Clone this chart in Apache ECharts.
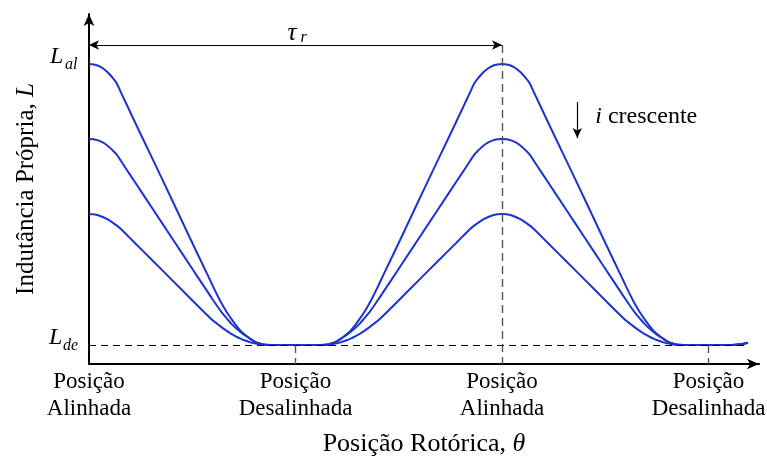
<!DOCTYPE html>
<html>
<head>
<meta charset="utf-8">
<script src="https://cdn.jsdelivr.net/npm/echarts@6/dist/echarts.min.js"></script>
<style>
  html, body { margin: 0; padding: 0; background: #ffffff; }
  #chart { width: 767px; height: 460px; }
</style>
</head>
<body>
<div id="chart"></div>
<script>
// Rotor position over one and a half pole pitches, degrees
const theta = [
  0, 1, 2, 3, 4, 5, 6, 7, 8, 10, 14, 18, 22, 26, 27, 28, 29, 30, 31, 32, 33, 34, 35, 36, 37, 38, 39, 40, 45,
  50, 51, 52, 53, 54, 55, 56, 57, 58, 59, 60, 61, 62, 63, 64, 68, 72, 76, 80, 82, 83, 84, 85, 86, 87, 88, 89, 90,
  91, 92, 93, 94, 95, 96, 97, 98, 100, 104, 108, 112, 116, 117, 118, 119, 120, 121, 122, 123, 124, 125, 126, 127, 128, 129, 130, 135,
  140, 142, 143.6
];

// Self-inductance profiles (arbitrary units), current increasing from first to last
const inductanceLowCurrent = [
  30.0, 29.95, 29.83, 29.58, 29.2, 28.7, 28.1, 27.12, 26.15, 24.2, 20.36, 16.5, 12.6, 8.76, 7.79, 6.85, 5.97, 5.2, 4.52, 3.88, 3.33, 2.92, 2.57, 2.27, 2.08, 1.95, 1.9, 1.9, 1.9,
  1.9, 1.9, 1.95, 2.08, 2.27, 2.57, 2.92, 3.33, 3.88, 4.52, 5.2, 5.97, 6.85, 7.79, 8.76, 12.6, 16.5, 20.36, 24.2, 26.15, 27.12, 28.1, 28.7, 29.2, 29.58, 29.83, 29.95, 30.0,
  29.95, 29.83, 29.58, 29.2, 28.7, 28.1, 27.12, 26.15, 24.2, 20.36, 16.5, 12.6, 8.76, 7.79, 6.85, 5.97, 5.2, 4.52, 3.88, 3.33, 2.92, 2.57, 2.27, 2.08, 1.95, 1.9, 1.9, 1.9,
  1.9, 1.97, 2.13
];
const inductanceMidCurrent = [
  22.5, 22.47, 22.36, 22.16, 21.85, 21.44, 20.97, 20.28, 19.58, 18.2, 15.43, 12.65, 9.87, 7.11, 6.42, 5.75, 5.11, 4.57, 4.04, 3.6, 3.21, 2.85, 2.56, 2.27, 2.08, 1.96, 1.92, 1.9, 1.9,
  1.9, 1.92, 1.96, 2.08, 2.27, 2.56, 2.85, 3.21, 3.6, 4.04, 4.57, 5.11, 5.75, 6.42, 7.11, 9.87, 12.65, 15.43, 18.2, 19.58, 20.28, 20.97, 21.44, 21.85, 22.16, 22.36, 22.47, 22.5,
  22.47, 22.36, 22.16, 21.85, 21.44, 20.97, 20.28, 19.58, 18.2, 15.43, 12.65, 9.87, 7.11, 6.42, 5.75, 5.11, 4.57, 4.04, 3.6, 3.21, 2.85, 2.56, 2.27, 2.08, 1.96, 1.92, 1.9, 1.9,
  1.9, 1.97, 2.13
];
const inductanceHighCurrent = [
  15.0, 14.97, 14.88, 14.7, 14.48, 14.19, 13.86, 13.48, 13.03, 12.1, 10.28, 8.44, 6.6, 4.78, 4.36, 4.0, 3.64, 3.31, 3.02, 2.77, 2.54, 2.35, 2.19, 2.06, 1.98, 1.92, 1.9, 1.9, 1.9,
  1.9, 1.9, 1.92, 1.98, 2.06, 2.19, 2.35, 2.54, 2.77, 3.02, 3.31, 3.64, 4.0, 4.36, 4.78, 6.6, 8.44, 10.28, 12.1, 13.03, 13.48, 13.86, 14.19, 14.48, 14.7, 14.88, 14.97, 15.0,
  14.97, 14.88, 14.7, 14.48, 14.19, 13.86, 13.48, 13.03, 12.1, 10.28, 8.44, 6.6, 4.78, 4.36, 4.0, 3.64, 3.31, 3.02, 2.77, 2.54, 2.35, 2.19, 2.06, 1.98, 1.92, 1.9, 1.9, 1.9,
  1.9, 1.97, 2.13
];

// Position ticks and their labels
const tickValues = [0, 45, 90, 135];
const tickLabels = ['Posição\nAlinhada', 'Posição\nDesalinhada', 'Posição\nAlinhada', 'Posição\nDesalinhada'];

// Reference levels and annotation anchors
const L_AL = 30.0;          // aligned inductance
const L_DE = 1.9;           // unaligned inductance
const TAU_R = 90;           // rotor pole pitch
const TAU_LEVEL = 31.9;     // height of the pole-pitch dimension arrow
const CURVE_END = 143.6;
const I_ARROW = { theta: 106.4, from: 26.2, to: 22.6 };

const THETA_MAX = 146;
const L_MAX = 35;

const SERIF = 'Liberation Serif, Times New Roman, serif';
const BLUE = '#1c34cf';

const chart = echarts.init(document.getElementById('chart'), null, { renderer: 'canvas' });

function pairs(values) {
  return theta.map((t, i) => [t, values[i]]);
}

function curve(name, values) {
  return {
    name: name,
    type: 'line',
    data: pairs(values),
    showSymbol: false,
    smooth: 0.3,
    lineStyle: { color: BLUE, width: 2 },
    silent: true,
    z: 3
  };
}

const dashBlack = { color: '#000', width: 1.2, type: [7, 5] };
const dashGrey = { color: '#555', width: 1.4, type: [8, 5] };
const solidBlack = { color: '#000', width: 1.2, type: 'solid' };

const guides = {
  name: 'guides',
  type: 'line',
  data: [],
  silent: true,
  z: 2,
  markLine: {
    silent: true,
    animation: false,
    label: { show: false },
    symbol: ['none', 'none'],
    data: [
      // unaligned level
      [{ coord: [0, L_DE], lineStyle: dashBlack }, { coord: [CURVE_END, L_DE] }],
      // aligned position marker
      [{ coord: [TAU_R, TAU_LEVEL], lineStyle: dashGrey }, { coord: [TAU_R, 0] }],
      // unaligned position markers
      [{ coord: [45, L_DE], lineStyle: dashGrey }, { coord: [45, 0] }],
      [{ coord: [135, L_DE], lineStyle: dashGrey }, { coord: [135, 0] }],
      // pole pitch dimension
      [{ coord: [0, TAU_LEVEL], lineStyle: solidBlack, symbol: 'arrow', symbolSize: [7, 10] },
       { coord: [TAU_R, TAU_LEVEL], symbol: 'arrow', symbolSize: [7, 10] }],
      // increasing current arrow
      [{ coord: [I_ARROW.theta, I_ARROW.from], lineStyle: solidBlack, symbol: 'none' },
       { coord: [I_ARROW.theta, I_ARROW.to], symbol: 'arrow', symbolSize: [7, 10] }]
    ]
  }
};

const option = {
  animation: false,
  backgroundColor: '#ffffff',
  grid: { left: 89, right: 8, top: 14, bottom: 96, containLabel: false, outerBoundsMode: 'none' },
  xAxis: {
    type: 'value',
    min: 0,
    max: THETA_MAX,
    interval: 45,
    splitLine: { show: false },
    axisTick: { show: false },
    axisLine: {
      show: true,
      onZero: false,
      symbol: ['none', 'arrow'],
      symbolSize: [8, 12],
      lineStyle: { color: '#000', width: 2 }
    },
    axisLabel: {
      show: true,
      margin: 4,
      fontFamily: SERIF,
      fontSize: 23,
      lineHeight: 27,
      color: '#000',
      formatter: function (v) {
        const k = tickValues.indexOf(v);
        return k >= 0 ? tickLabels[k] : '';
      }
    },
    name: '{n|Posição Rotórica, }{i|θ}',
    nameLocation: 'middle',
    nameGap: 67,
    nameTextStyle: {
      rich: {
        n: { fontFamily: SERIF, fontSize: 26, color: '#000' },
        i: { fontFamily: SERIF, fontSize: 26, fontStyle: 'italic', color: '#000' }
      }
    }
  },
  yAxis: {
    type: 'value',
    min: 0,
    max: L_MAX,
    splitLine: { show: false },
    axisTick: { show: false },
    axisLabel: { show: false },
    axisLine: {
      show: true,
      onZero: false,
      symbol: ['none', 'arrow'],
      symbolSize: [8, 12],
      lineStyle: { color: '#000', width: 2 }
    },
    name: '{n|Indutância Própria, }{i|L}',
    nameLocation: 'middle',
    nameGap: 50,
    nameRotate: 90,
    nameTextStyle: {
      rich: {
        n: { fontFamily: SERIF, fontSize: 25, color: '#000' },
        i: { fontFamily: SERIF, fontSize: 25, fontStyle: 'italic', color: '#000' }
      }
    }
  },
  series: [
    curve('baixa corrente', inductanceLowCurrent),
    curve('média corrente', inductanceMidCurrent),
    curve('alta corrente', inductanceHighCurrent),
    guides
  ]
};

chart.setOption(option);

// Symbol labels placed next to their reference points
function px(x, y) {
  return chart.convertToPixel({ gridIndex: 0 }, [x, y]);
}

function italicText(x, y, text, size) {
  return {
    type: 'text',
    x: x,
    y: y,
    silent: true,
    style: {
      text: text,
      fill: '#000',
      font: 'italic ' + size + 'px ' + SERIF,
      textAlign: 'left',
      textVerticalAlign: 'middle'
    }
  };
}

const pAl = px(0, L_AL);
const pDe = px(0, L_DE);
const pTau = px(TAU_R / 2, TAU_LEVEL);
const pI = px(I_ARROW.theta, I_ARROW.from);

chart.setOption({
  graphic: [
    italicText(pAl[0] - 39, pAl[1] - 7, 'L', 24),
    italicText(pAl[0] - 24, pAl[1] + 1, 'al', 16),
    italicText(pDe[0] - 40, pDe[1] - 7, 'L', 24),
    italicText(pDe[0] - 26, pDe[1] + 1, 'de', 16),
    italicText(pTau[0] - 8, pTau[1] - 12, 'τ', 25),
    italicText(pTau[0] + 5, pTau[1] - 7, 'r', 16),
    {
      type: 'text',
      x: pI[0] + 18,
      y: pI[1] + 15,
      silent: true,
      style: {
        text: '{i|i} crescente',
        fill: '#000',
        font: '24px ' + SERIF,
        textAlign: 'left',
        textVerticalAlign: 'middle',
        rich: {
          i: { fontFamily: SERIF, fontSize: 24, fontStyle: 'italic', fill: '#000' }
        }
      }
    }
  ]
});
</script>
</body>
</html>
